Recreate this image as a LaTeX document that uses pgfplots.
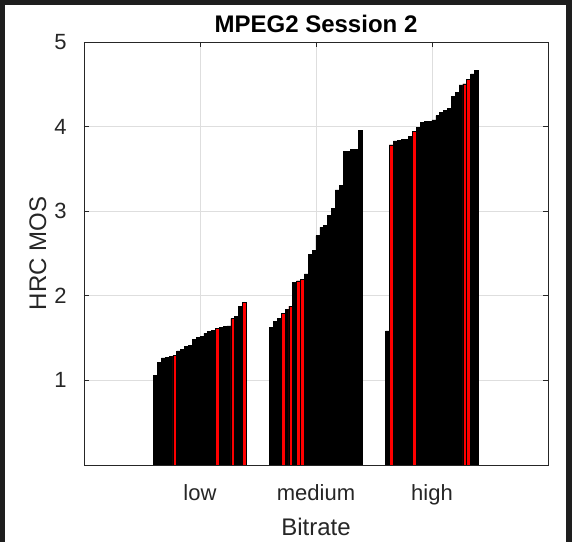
\documentclass[border=0pt]{standalone}
\usepackage{pgfplots}
\pgfplotsset{compat=1.18}
\usepackage{pgfplotstable}
\usepackage{fontspec}
\setmainfont{Liberation Sans}
\definecolor{framedark}{RGB}{30,30,30}
\definecolor{axgray}{RGB}{38,38,38}
\definecolor{gridgray}{RGB}{222,222,222}
\definecolor{barred}{RGB}{255,0,0}

% g = group (1 low, 2 medium, 3 high), i = bar index in group, v = HRC MOS, r = 1 for red bar
\pgfplotstableread{
g i v r
1 0 1.056 0
1 1 1.214 0
1 2 1.265 0
1 3 1.273 0
1 4 1.281 0
1 5 1.292 1
1 6 1.348 0
1 7 1.367 0
1 8 1.399 0
1 9 1.418 0
1 10 1.489 0
1 11 1.505 0
1 12 1.517 0
1 13 1.556 0
1 14 1.576 0
1 15 1.592 0
1 16 1.611 1
1 17 1.627 0
1 18 1.635 0
1 19 1.643 0
1 20 1.730 1
1 21 1.753 0
1 22 1.879 0
1 23 1.923 1
2 0 1.627 0
2 1 1.698 0
2 2 1.730 0
2 3 1.793 1
2 4 1.840 0
2 5 1.879 1
2 6 2.155 0
2 7 2.175 1
2 8 2.191 1
2 9 2.258 0
2 10 2.486 0
2 11 2.541 0
2 12 2.711 0
2 13 2.809 0
2 14 2.833 0
2 15 2.951 0
2 16 3.030 0
2 17 3.251 0
2 18 3.302 0
2 19 3.704 0
2 20 3.704 0
2 21 3.731 0
2 22 3.731 0
2 23 3.952 0
3 0 1.584 0
3 1 3.783 1
3 2 3.830 0
3 3 3.838 0
3 4 3.846 0
3 5 3.849 0
3 6 3.881 0
3 7 3.940 1
3 8 3.991 0
3 9 4.047 0
3 10 4.062 0
3 11 4.066 0
3 12 4.078 0
3 13 4.129 0
3 14 4.169 0
3 15 4.188 0
3 16 4.216 0
3 17 4.354 0
3 18 4.405 0
3 19 4.492 0
3 20 4.504 1
3 21 4.559 1
3 22 4.622 0
3 23 4.669 0
}\hrcdata

\begin{document}
\begin{tikzpicture}
\fill[framedark] (0pt,0pt) rectangle (429pt,406.5pt);
\fill[white] (3.75pt,0pt) rectangle (424.5pt,402.75pt);
\begin{axis}[
  at={(63pt,57.75pt)}, anchor=south west,
  scale only axis, width=348pt, height=317.25pt,
  xmin=0, xmax=4, ymin=0, ymax=5,
  xtick={1,2,3}, xticklabels={low,medium,high},
  ytick={1,2,3,4,5},
  /pgf/number format/assume math mode=true,
  grid=major,
  major grid style={gridgray, line width=0.6pt},
  tick align=inside, major tick length=3.5pt,
  tick style={axgray, line width=0.5pt},
  axis line style={axgray, line width=0.6pt},
  ticklabel style={font=\fontsize{16.5}{18}\selectfont, text=axgray},
  yticklabel style={anchor=east, inner sep=0pt, xshift=-12.75pt},
  xticklabel style={anchor=base, inner sep=0pt, yshift=-27pt},
  title={MPEG2 Session 2},
  title style={font=\bfseries\fontsize{18}{20}\selectfont, at={(axis description cs:0.5,1)}, anchor=base, inner sep=0pt, yshift=0.75pt},
  xlabel={Bitrate},
  xlabel style={font=\fontsize{18}{20}\selectfont, text=axgray, at={(axis description cs:0.5,-0.1655)}, anchor=base, inner sep=0pt},
  ylabel={HRC MOS},
  ylabel style={font=\fontsize{18}{20}\selectfont, text=axgray, at={(axis description cs:-0.0819,0.5)}, anchor=base, inner sep=0pt},
]
\addplot[ybar, bar width=0.0333333, bar shift=0pt, fill=black, draw=black, line width=0.5pt]
  table[x expr={\thisrow{g}-0.4+(\thisrow{i}+0.5)/30}, y=v] {\hrcdata};
\addplot[ybar, bar width=0.0333333, bar shift=0pt, fill=barred, draw=black, line width=0.5pt, restrict y to domain=0.01:6]
  table[x expr={\thisrow{g}-0.4+(\thisrow{i}+0.5)/30}, y expr={\thisrow{v}*\thisrow{r}}] {\hrcdata};
\end{axis}
\end{tikzpicture}
\end{document}
